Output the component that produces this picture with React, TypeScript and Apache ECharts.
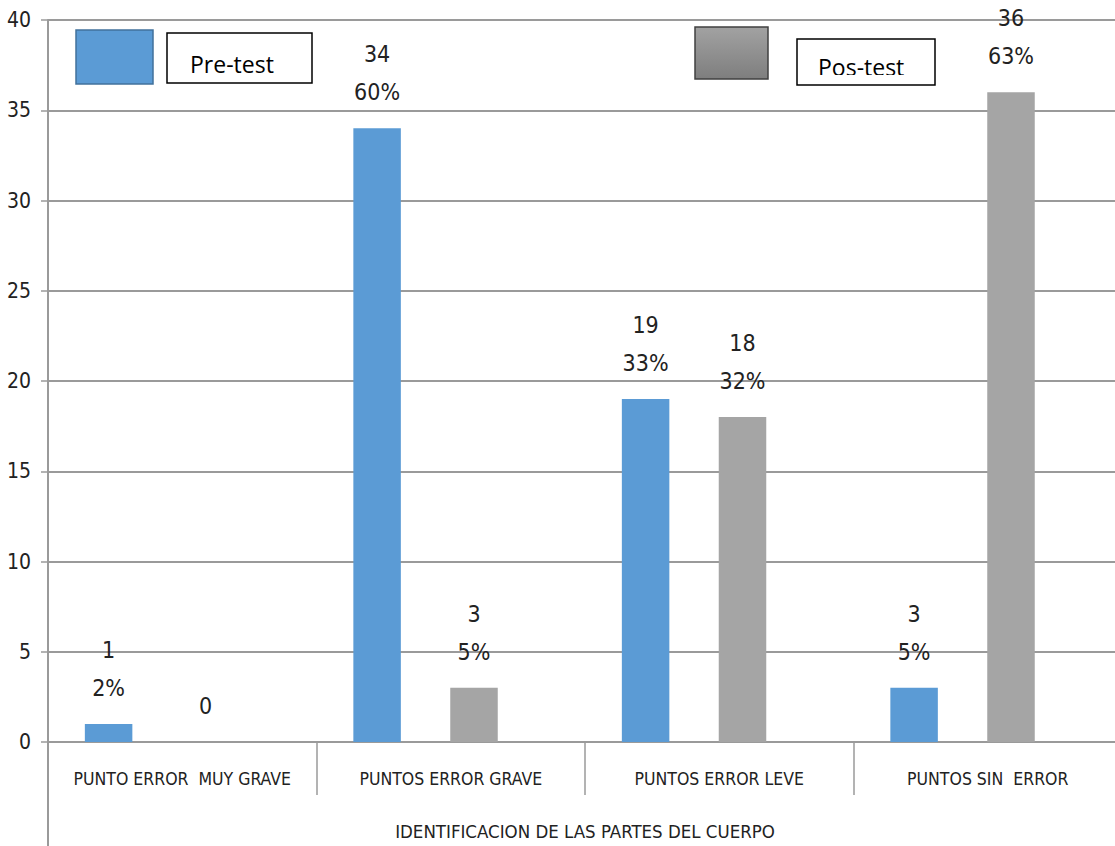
import React, { useEffect, useRef } from "react";
import * as echarts from "echarts";

// Categories and counts per test
const categories = [
  "PUNTO ERROR  MUY GRAVE",
  "PUNTOS ERROR GRAVE",
  "PUNTOS ERROR LEVE",
  "PUNTOS SIN  ERROR",
];
const preTest = [1, 34, 19, 3];
const posTest = [0, 3, 18, 36];
const yTicks = { min: 0, max: 40, interval: 5 };
const axisTitle = "IDENTIFICACION DE LAS PARTES DEL CUERPO";
const preName = "Pre-test";
const posName = "Pos-test";

const BLUE = "#5B9BD5";
const GRAY = "#A5A5A5";
const NARROW = "'Liberation Sans Narrow', 'DejaVu Sans Condensed', 'Liberation Sans', sans-serif";
const LINE = "#9A9A9A";

const sum = (a: number[]) => a.reduce((s, v) => s + v, 0);

function makeLabel(total: number) {
  return (p: any) => {
    const v = p.value as number;
    if (v === 0) return "0";
    return `${v}\n${Math.round((v / total) * 100)}%`;
  };
}

export default function App() {
  const ref = useRef<HTMLDivElement>(null);

  useEffect(() => {
    document.body.style.margin = "0";
    if (!ref.current) return;
    const chart = echarts.init(ref.current, undefined, { renderer: "svg" });

    const labelStyle = {
      show: true,
      position: "top" as const,
      distance: 17,
      fontFamily: NARROW,
      fontSize: 23,
      lineHeight: 38,
      color: "#222",
    };

    chart.setOption({
      animation: false,
      backgroundColor: "#fff",
      grid: { left: 48, top: 20, width: 1074, height: 722 },
      xAxis: {
        type: "category",
        data: categories,
        boundaryGap: true,
        axisLine: { show: true, lineStyle: { color: LINE, width: 2 } },
        axisTick: {
          show: true,
          interval: 0,
          alignWithLabel: false,
          length: 53,
          lineStyle: { color: LINE, width: 1.5 },
        },
        axisLabel: {
          interval: 0,
          margin: 28,
          fontFamily: NARROW,
          fontSize: 17.5,
          color: "#222",
        },
        name: axisTitle,
        nameLocation: "middle",
        nameGap: 80,
        nameTextStyle: { fontFamily: NARROW, fontSize: 18.5, color: "#222" },
      },
      yAxis: {
        type: "value",
        min: yTicks.min,
        max: yTicks.max,
        interval: yTicks.interval,
        axisLine: { show: true, lineStyle: { color: LINE, width: 2 } },
        axisTick: { show: true, length: 7, lineStyle: { color: LINE, width: 1.5 } },
        axisLabel: { margin: 17, fontFamily: NARROW, fontSize: 21, color: "#222" },
        splitLine: { show: true, lineStyle: { color: LINE, width: 2 } },
      },
      series: [
        {
          name: preName,
          type: "bar",
          data: preTest,
          barWidth: 47.5,
          barGap: "104%",
          itemStyle: { color: BLUE },
          label: { ...labelStyle, formatter: makeLabel(sum(preTest)) },
        },
        {
          name: posName,
          type: "bar",
          data: posTest,
          barWidth: 47.5,
          barGap: "104%",
          itemStyle: { color: GRAY },
          label: { ...labelStyle, formatter: makeLabel(sum(posTest)) },
        },
        {
          // empty placeholder slot that keeps each pair left of the category centre
          name: "",
          type: "bar",
          data: categories.map(() => null),
          barWidth: 1,
          barGap: "104%",
          silent: true,
          label: { show: false },
        },
      ],
      graphic: [
        // outer level of the category axis
        {
          type: "line",
          shape: { x1: 48, y1: 742, x2: 48, y2: 846 },
          style: { stroke: LINE, lineWidth: 2 },
          silent: true,
        },
        // Pre-test key
        {
          type: "rect",
          shape: { x: 76, y: 30, width: 77, height: 54 },
          style: { fill: BLUE, stroke: "#41719C", lineWidth: 1.5 },
        },
        {
          type: "rect",
          shape: { x: 167, y: 33, width: 145, height: 50 },
          style: { fill: "#fff", stroke: "#000", lineWidth: 1.5 },
        },
        {
          type: "text",
          x: 190,
          y: 64,
          style: {
            text: preName,
            fontFamily: "'Open Sans', sans-serif",
            fontSize: 23,
            fill: "#000",
            verticalAlign: "middle",
          },
        },
        // Pos-test key
        {
          type: "rect",
          shape: { x: 695, y: 27, width: 73, height: 52 },
          style: {
            fill: new echarts.graphic.LinearGradient(0, 0, 0, 1, [
              { offset: 0, color: "#A2A2A2" },
              { offset: 1, color: "#7E7E7E" },
            ]),
            stroke: "#404040",
            lineWidth: 1.5,
          },
        },
        {
          type: "rect",
          shape: { x: 797, y: 39, width: 138, height: 46 },
          style: { fill: "#fff", stroke: "#000", lineWidth: 1.5 },
        },
        {
          type: "text",
          x: 818,
          y: 67,
          style: {
            text: posName,
            fontFamily: "'Open Sans', sans-serif",
            fontSize: 23,
            fill: "#000",
            verticalAlign: "middle",
          },
        },
        {
          type: "rect",
          shape: { x: 799, y: 75, width: 134, height: 8.5 },
          style: { fill: "#fff" },
        },
      ],
    });

    return () => chart.dispose();
  }, []);

  // the plot runs slightly past the right edge of the visible area
  return (
    <div style={{ width: 1115, height: 846, overflow: "hidden" }}>
      <div ref={ref} style={{ width: 1130, height: 846 }} />
    </div>
  );
}
